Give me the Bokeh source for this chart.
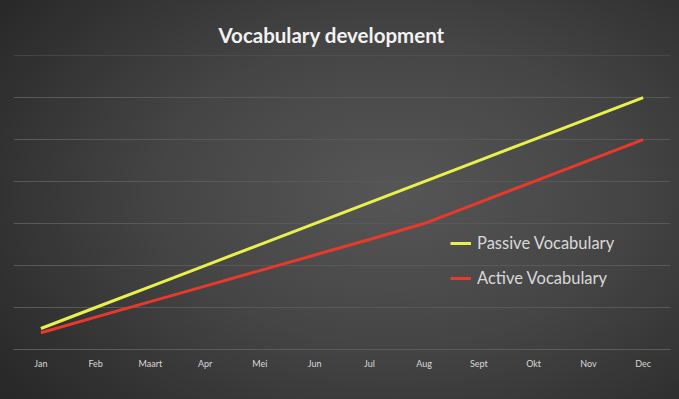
from bokeh.plotting import figure
from bokeh.models import Legend, LegendItem, FixedTicker, Range1d
from bokeh.embed import file_html
from bokeh.resources import INLINE

months = ["Jan", "Feb", "Maart", "Apr", "Mei", "Jun", "Jul", "Aug", "Sept", "Okt", "Nov", "Dec"]
passive = [500, 1000, 1500, 2000, 2500, 3000, 3500, 4000, 4500, 5000, 5500, 6000]
active = [400, 770, 1140, 1510, 1880, 2250, 2620, 3000, 3500, 4000, 4500, 5000]
y_ticks = [0, 1000, 2000, 3000, 4000, 5000, 6000, 7000]

p = figure(width=679, height=399, x_range=months, y_range=Range1d(0, 7003),
           output_backend="svg", toolbar_location=None,
           min_border_left=13, min_border_right=9, min_border_top=55, min_border_bottom=50)

p.styles = {"background": "radial-gradient(ellipse 75% 85% at 58% 48%, #565656 0%, #454545 45%, #2e2e2e 85%, #262626 100%)"}
p.background_fill_alpha = 0
p.border_fill_alpha = 0
p.outline_line_color = None

p.title.text = "Vocabulary development"
p.title.align = "left"
p.title.text_color = "#f2f2f2"
p.title.text_font = "Lato"
p.title.text_font_style = "bold"
p.title.text_font_size = "20.5px"
p.title.offset = 205
p.title.standoff = 18

r1 = p.line(months, passive, line_color="#e8f04e", line_width=3)
r2 = p.line(months, active, line_color="#e8392c", line_width=3)

p.yaxis.visible = False
p.ygrid.ticker = FixedTicker(ticks=y_ticks)
p.ygrid.grid_line_color = "#595959"
p.ygrid.grid_line_width = 1
p.xgrid.grid_line_color = None

p.xaxis.axis_line_color = "#5c5c5c"
p.xaxis.major_tick_line_color = None
p.xaxis.minor_tick_line_color = None
p.xaxis.major_label_text_color = "#d9d9d9"
p.xaxis.major_label_text_font = "Lato"
p.xaxis.major_label_text_font_size = "9px"
p.xaxis.major_label_standoff = 2

legend = Legend(items=[LegendItem(label="Passive Vocabulary", renderers=[r1]),
                       LegendItem(label="Active Vocabulary", renderers=[r2])],
                location=(437, 61), orientation="vertical",
                background_fill_alpha=0, border_line_color=None,
                label_text_color="#d9d9d9", label_text_font="Lato",
                label_text_font_size="16.5px", glyph_width=21, glyph_height=20,
                label_height=20, spacing=15, padding=0, margin=0, label_standoff=6)
p.add_layout(legend, "center")

open("out.html", "w").write(file_html(p, INLINE))
